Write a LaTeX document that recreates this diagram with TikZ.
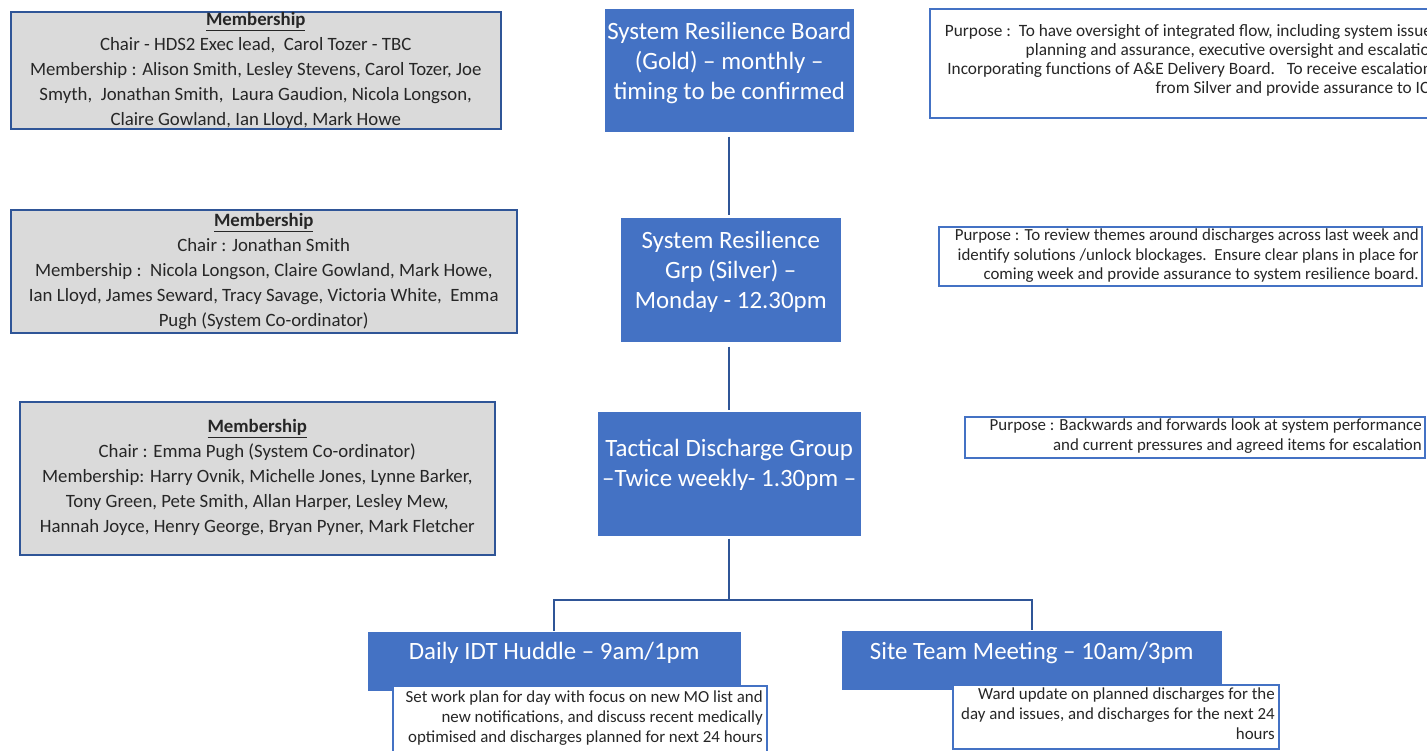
\documentclass[tikz,border=0pt]{standalone}
\usepackage{fontspec}
\setmainfont{Carlito}
\usepackage{tikz}
\usetikzlibrary{positioning}
\definecolor{boxblue}{HTML}{4472C4}
\definecolor{linkblue}{HTML}{2F5597}
\definecolor{membergray}{HTML}{DADADA}
\definecolor{inkgray}{HTML}{262626}

\begin{document}
\begin{tikzpicture}[x=1pt,y=-1pt,line width=1.5pt,inner sep=0pt]
  \tikzstyle{member}=[rectangle,draw=linkblue,fill=membergray,anchor=north west]
  \tikzstyle{level}=[rectangle,fill=boxblue,anchor=north west]
  \tikzstyle{purpose}=[rectangle,draw=boxblue,fill=white,anchor=north west]
  \tikzstyle{membertext}=[text=inkgray,align=center,font=\fontsize{18.8}{25}\selectfont]
  \tikzstyle{leveltext}=[text=white,align=center,font=\fontsize{24.9}{30}\selectfont]
  \tikzstyle{purposetext}=[text=inkgray,align=right,font=\fontsize{16.9}{19.3}\selectfont]
  \tikzstyle{notetext}=[text=inkgray,align=right,font=\fontsize{16.9}{20}\selectfont]
  \tikzstyle{link}=[draw=linkblue,line width=2pt]

  \path[use as bounding box] (0,0) rectangle (1427,750);
  \clip (0,0) rectangle (1427,750);

  % gold level
  \node[member,minimum width=490pt,minimum height=117pt]  (mem1)  at (10,11)  {};
  \node[membertext] (mem1text) [below=1pt of mem1.north]
    {\textbf{\underline{Membership}}\\
     Chair - HDS2 Exec lead,\ \ Carol Tozer - TBC\\
     Membership : Alison Smith, Lesley Stevens, Carol Tozer, Joe\\
     Smyth,\ \ Jonathan Smith,\ \ Laura Gaudion, Nicola Longson,\\
     Claire Gowland, Ian Lloyd, Mark Howe};
  \node[level,minimum width=249pt,minimum height=123pt]   (gold)  at (604,8)  {};
  \node[leveltext] (goldtext) [below=13pt of gold.north]
    {System Resilience Board\\(Gold) -- monthly --\\timing to be confirmed};
  \node[purpose,minimum width=512pt,minimum height=109pt] (purp1) at (929,8)  {};
  \node[purposetext,font=\fontsize{17.3}{19.2}\selectfont] (purp1text)
    [below left=15.5pt and 3pt of purp1.north east]
    {Purpose :\ \ To have oversight of integrated flow, including system issues\\
     planning and assurance, executive oversight and escalation\\
     Incorporating functions of A\&E Delivery Board.\ \ \ To receive escalations\\
     from Silver and provide assurance to ICB};

  % silver level
  \node[member,minimum width=506pt,minimum height=123pt]  (mem2)  at (10,209) {};
  \node[membertext] (mem2text) [below=4pt of mem2.north]
    {\textbf{\underline{Membership}}\\
     Chair : Jonathan Smith\\
     Membership :\ \ Nicola Longson, Claire Gowland, Mark Howe,\\
     Ian Lloyd, James Seward, Tracy Savage, Victoria White,\ \ Emma\\
     Pugh (System Co-ordinator)};
  \node[level,minimum width=220pt,minimum height=124pt]   (silver) at (620,217) {};
  \node[leveltext] (silvertext) [below=13pt of silver.north]
    {System Resilience\\Grp (Silver) --\\Monday - 12.30pm};
  \node[purpose,minimum width=483pt,minimum height=59pt]  (purp2) at (938,226) {};
  \node[purposetext] (purp2text) [below left=2.5pt and 3pt of purp2.north east]
    {Purpose : To review themes around discharges across last week and\\
     identify solutions /unlock blockages.\ \ Ensure clear plans in place for\\
     coming week and provide assurance to system resilience board.};

  % tactical level
  \node[member,minimum width=475pt,minimum height=153pt]  (mem3)  at (19,401) {};
  \node[membertext] (mem3text) [below=18pt of mem3.north]
    {\textbf{\underline{Membership}}\\
     Chair : Emma Pugh (System Co-ordinator)\\
     Membership: Harry Ovnik, Michelle Jones, Lynne Barker,\\
     Tony Green, Pete Smith, Allan Harper, Lesley Mew,\\
     Hannah Joyce, Henry George, Bryan Pyner, Mark Fletcher};
  \node[level,minimum width=263pt,minimum height=124pt]   (tactical) at (597,411) {};
  \node[leveltext] (tacticaltext) [below=27pt of tactical.north]
    {Tactical Discharge Group\\--Twice weekly- 1.30pm --};
  \node[purpose,minimum width=460pt,minimum height=41pt]  (purp3) at (964,416) {};
  \node[purposetext] (purp3text) [below left=2.5pt and 3pt of purp3.north east]
    {Purpose : Backwards and forwards look at system performance\\
     and current pressures and agreed items for escalation};

  % daily meetings
  \node[level,minimum width=373pt,minimum height=59pt]    (huddle) at (367,631) {};
  \node[leveltext,anchor=base] (huddletext) at ([yshift=1.5pt]huddle.center)
    {Daily IDT Huddle -- 9am/1pm};
  \node[purpose,minimum width=374pt,minimum height=70pt]  (huddlenote) at (392,685) {};
  \node[notetext] (huddlenotetext) [below left=5.5pt and 4pt of huddlenote.north east]
    {Set work plan for day with focus on new MO list and\\
     new notifications, and discuss recent medically\\
     optimised and discharges planned for next 24 hours};
  \node[level,minimum width=380pt,minimum height=59pt]    (site) at (841,630) {};
  \node[leveltext,anchor=base] (sitetext) at ([yshift=0.5pt]site.center)
    {Site Team Meeting -- 10am/3pm};
  \node[purpose,minimum width=326pt,minimum height=64pt]  (sitenote) at (952,684) {};
  \node[notetext] (sitenotetext) [below left=3.5pt and 4pt of sitenote.north east]
    {Ward update on planned discharges for the\\
     day and issues, and discharges for the next 24\\
     hours};

  \coordinate (fork) at (729,600);

  \path[link] ([yshift=-4pt]gold.south) -- ([yshift=2pt]gold.south |- silver.north)
              ([yshift=-4pt]silver.south -| gold.south) -- ([yshift=1pt]gold.south |- tactical.north)
              ([yshift=-2pt]tactical.south -| fork) -- (fork)
              (fork) -| ([xshift=-0.5pt]huddle.north)
              (fork) -| (site.north);
\end{tikzpicture}
\end{document}
